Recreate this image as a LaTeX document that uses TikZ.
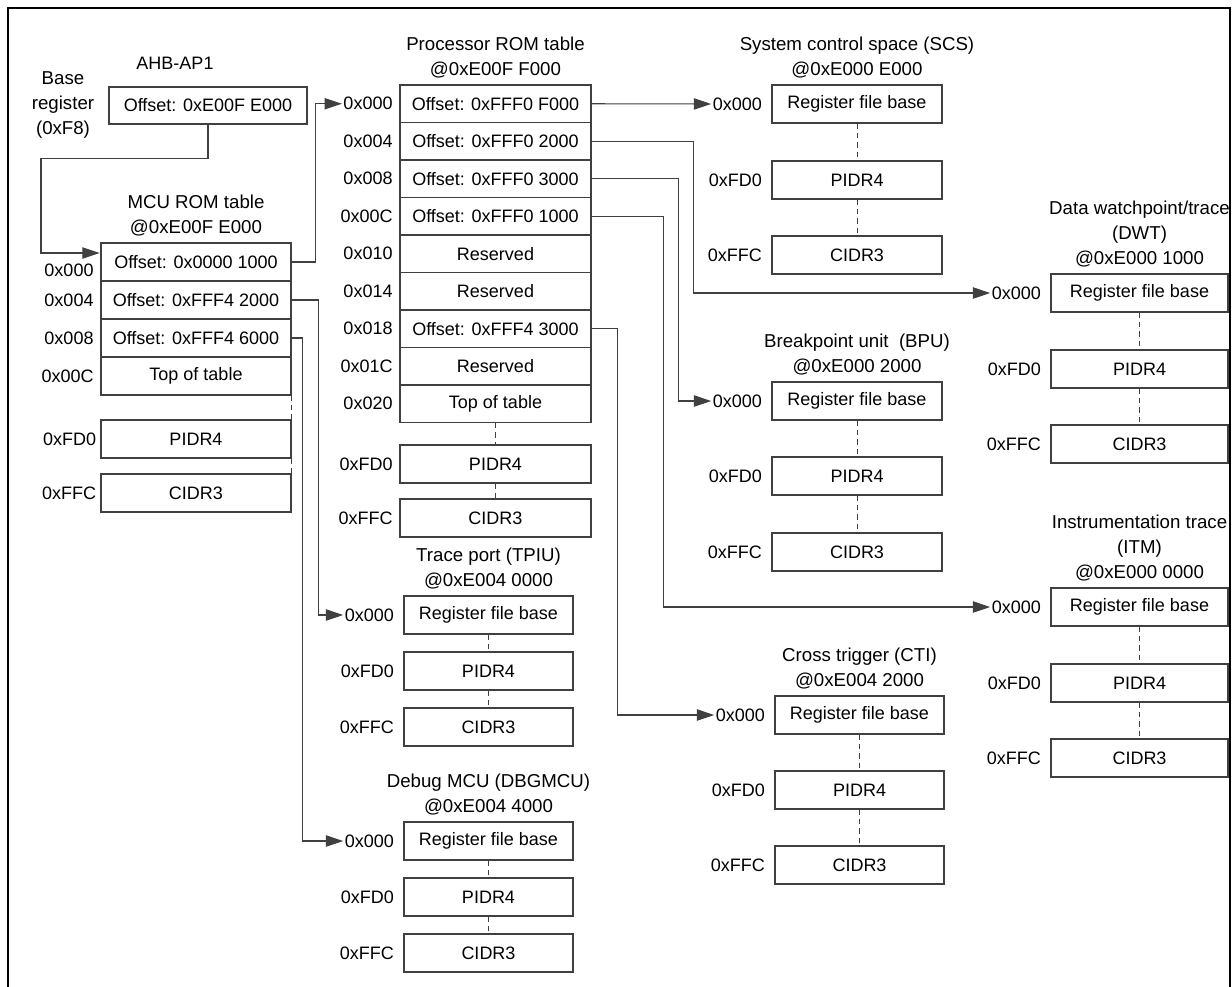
\documentclass[tikz,border=0pt]{standalone}
\usepackage{fontspec}
\setmainfont{Liberation Sans}
\usetikzlibrary{arrows.meta}
\begin{document}
\begin{tikzpicture}[x=0.75pt,y=-0.75pt,
  every node/.style={font=\fontsize{13.5}{16}\selectfont},
  box/.style={draw=black!75,line width=0.8pt,inner sep=0pt,minimum height=28.5pt},
  lab/.style={inner sep=0pt,anchor=east},
  ttl/.style={align=center,font=\fontsize{14}{18.75}\selectfont},
  ln/.style={draw=black!75,line width=0.8pt},
  arr/.style={ln,-{Triangle[length=13pt,width=8.5pt]},shorten >=1pt},
  dsh/.style={draw=black!75,line width=0.7pt,dash pattern=on 4pt off 3pt}]
\useasboundingbox (0,0) rectangle (1232,986);
\draw[line width=2pt] (8,990) -- (8,8) -- (1230,8) -- (1230,990);

\newcommand\rowbox[6]{% name, xl, xr, ytop, h, text
  \node[box,minimum width={(#3-#2)*0.75pt},minimum height={#5*0.75pt}] (#1) at ({(#2+#3)/2},{#4+#5/2}) {#6};}
\newcommand\blk[7]{% name, xl, xr, yreg, ypidr, ycidr, title
  \rowbox{#1r}{#2}{#3}{#4}{38}{Register file base}
  \rowbox{#1p}{#2}{#3}{#5}{38}{PIDR4}
  \rowbox{#1c}{#2}{#3}{#6}{38}{CIDR3}
  \node[lab] (#1l) at ([xshift=-7pt]#1r.west) {0x000};
  \node[lab] at ([xshift=-7pt]#1p.west) {0xFD0};
  \node[lab] at ([xshift=-7pt]#1c.west) {0xFFC};
  \draw[dsh] (#1r.south) -- (#1p.north);
  \draw[dsh] (#1p.south) -- (#1c.north);
  \node[ttl,anchor=south] (#1t) at ([yshift=1pt]#1r.north) {#7};}

% AHB-AP1
\rowbox{ahb}{109}{307}{87}{37}{Offset: 0xE00F E000}
\node (ahbt) at (175,63) {AHB-AP1};
\node[ttl] (basereg) at (63,105) {Base\\register\\(0xF8)};

% MCU ROM table
\rowbox{m0}{101}{291}{243}{38}{Offset: 0x0000 1000}
\rowbox{m1}{101}{291}{281}{38}{Offset: 0xFFF4 2000}
\rowbox{m2}{101}{291}{319}{38}{Offset: 0xFFF4 6000}
\rowbox{m3}{101}{291}{357}{38}{Top of table}
\rowbox{mp}{101}{291}{420}{38}{PIDR4}
\rowbox{mc}{101}{291}{474}{38}{CIDR3}
\node[lab] at ([xshift=-5pt,yshift=-6pt]m0.west) {0x000};
\node[lab] at ([xshift=-5pt]m1.west) {0x004};
\node[lab] at ([xshift=-5pt]m2.west) {0x008};
\node[lab] at ([xshift=-5pt]m3.west) {0x00C};
\node[lab] at ([xshift=-3pt]mp.west) {0xFD0};
\node[lab] at ([xshift=-3pt]mc.west) {0xFFC};
\draw[dsh] (m3.south east) -- (mp.north east);
\draw[dsh] (mp.south east) -- (mc.north east);
\node[ttl,anchor=south] (mt) at ([yshift=1pt]m0.north) {MCU ROM table\\@0xE00F E000};

% Processor ROM table
\foreach \i/\t/\l in {0/Offset: 0xFFF0 F000/0x000,1/Offset: 0xFFF0 2000/0x004,2/Offset: 0xFFF0 3000/0x008,3/Offset: 0xFFF0 1000/0x00C,4/Reserved/0x010,5/Reserved/0x014,6/Offset: 0xFFF4 3000/0x018,7/Reserved/0x01C,8/Top of table/0x020}{
  \rowbox{pr\i}{400}{591}{85+\i*37.5}{37.5}{\t}
  \node[lab] (pl\i) at ([xshift=-5pt]pr\i.west) {\l};
}
\rowbox{pp}{400}{591}{445}{38}{PIDR4}
\rowbox{pc}{400}{591}{499}{38}{CIDR3}
\node[lab] at ([xshift=-5pt]pp.west) {0xFD0};
\node[lab] at ([xshift=-5pt]pc.west) {0xFFC};
\draw[dsh] (pr8.south) -- (pp.north);
\draw[dsh] (pp.south) -- (pc.north);
\node[ttl,anchor=south] (pt) at ([yshift=1pt]pr0.north) {Processor ROM table\\@0xE00F F000};

% Components
\blk{scs}{772}{942}{85}{161}{236}{System control space (SCS)\\@0xE000 E000}
\blk{dwt}{1051}{1228}{274}{350}{425}{Data watchpoint/trace\\(DWT)\\@0xE000 1000}
\blk{bpu}{772}{942}{382}{457}{533}{Breakpoint unit\ \ (BPU)\\@0xE000 2000}
\blk{itm}{1051}{1228}{588}{664}{739}{Instrumentation trace\\(ITM)\\@0xE000 0000}
\blk{cti}{775}{944}{696}{771}{846}{Cross trigger (CTI)\\@0xE004 2000}
\blk{tpiu}{404}{573}{596}{652}{708}{Trace port (TPIU)\\@0xE004 0000}
\blk{dbg}{404}{573}{822}{878}{934}{Debug MCU (DBGMCU)\\@0xE004 4000}

% Connectors
\coordinate (mIn) at (101,253);
\draw[arr] (ahb.south) -- ++(0,34) -| ++(-167,0) |- (mIn);
\draw[arr] (m0.east) -- ++(24,0) |- (pl0.west);
\draw[arr] (m1.east) -- ++(27,0) |- (tpiul.west);
\draw[arr] (m2.east) -- ++(11,0) |- (dbgl.west);
\draw[arr] (pr0.east) -- (scsl.west);
\draw[arr] (pr1.east) -- ++(102,0) |- (dwtl.west);
\draw[arr] (pr2.east) -- ++(87,0) |- (bpul.west);
\draw[arr] (pr3.east) -- ++(72,0) |- (itml.west);
\draw[arr] (pr6.east) -- ++(26,0) |- (ctil.west);
\end{tikzpicture}
\end{document}
